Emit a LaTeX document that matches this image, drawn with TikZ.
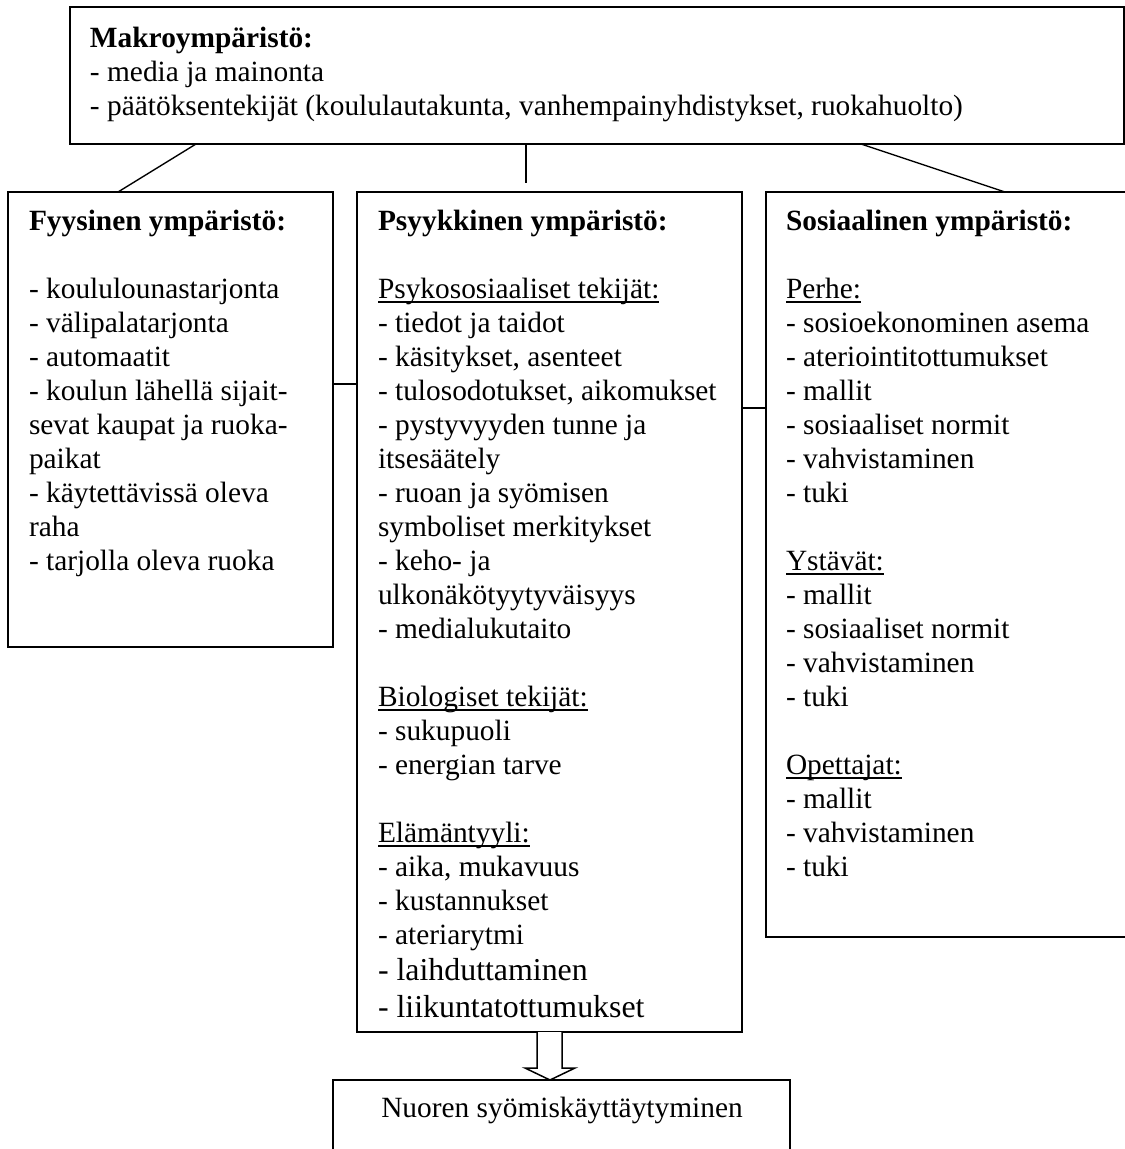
\documentclass[tikz,border=0pt]{standalone}
\usepackage{fontspec}
\setmainfont{Liberation Serif}
\newcommand{\myul}[1]{\leavevmode\setbox0\hbox{#1}\rlap{\rule[-1.8pt]{\wd0}{0.55pt}}\box0}
\begin{document}
\begin{tikzpicture}[x=0.4pt,y=-0.4pt,
  box/.style 2 args={draw, line width=0.75pt, rectangle, inner sep=0pt, outer sep=0pt,
    anchor=north west, minimum width=#1*0.4pt, minimum height=#2*0.4pt},
  txt/.style={anchor=base west, inner sep=0pt, outer sep=0pt, font=\fontsize{11.75}{13.6}\selectfont},
  link/.style={line width=0.55pt}]
\useasboundingbox (0,0) rectangle (1125,1149);

% boxes
\node[box={1054}{137}] (macro) at (70,7) {};
\node[box={325}{455}] (fyys) at (8,192) {};
\node[box={385}{840}] (psyk) at (357,192) {};
\node[box={370}{745}] (sos) at (766,192) {};
\node[box={457}{90}] (out) at (333,1080) {};

% texts
\node[txt] (tmacro) at (90,47) {\parbox[t]{440pt}{\raggedright
\textbf{Makroympäristö:}\par
- media ja mainonta\par
- päätöksentekijät (koululautakunta, vanhempainyhdistykset, ruokahuolto)}};

\node[txt] (tfyys) at (29,230) {\parbox[t]{200pt}{\raggedright
\textbf{Fyysinen ympäristö:}\par
\mbox{}\par
- koululounastarjonta\par
- välipalatarjonta\par
- automaatit\par
- koulun lähellä sijait-\par
sevat kaupat ja ruoka-\par
paikat\par
- käytettävissä oleva\par
raha\par
- tarjolla oleva ruoka}};

\node[txt] (tpsyk) at (378,230) {\parbox[t]{200pt}{\raggedright
\textbf{Psyykkinen ympäristö:}\par
\mbox{}\par
\myul{Psykososiaaliset tekijät:}\par
- tiedot ja taidot\par
- käsitykset, asenteet\par
- tulosodotukset, aikomukset\par
- pystyvyyden tunne ja\par
itsesäätely\par
- ruoan ja syömisen\par
symboliset merkitykset\par
- keho- ja\par
ulkonäkötyytyväisyys\par
- medialukutaito\par
\mbox{}\par
\myul{Biologiset tekijät:}\par
- sukupuoli\par
- energian tarve\par
\mbox{}\par
\myul{Elämäntyyli:}\par
- aika, mukavuus\par
- kustannukset\par
- ateriarytmi\par
\fontsize{12.75}{14.6}\selectfont
- laihduttaminen\par
- liikuntatottumukset}};

\node[txt] (tsos) at (786,230) {\parbox[t]{200pt}{\raggedright
\textbf{Sosiaalinen ympäristö:}\par
\mbox{}\par
\myul{Perhe:}\par
- sosioekonominen asema\par
- ateriointitottumukset\par
- mallit\par
- sosiaaliset normit\par
- vahvistaminen\par
- tuki\par
\mbox{}\par
\myul{Ystävät:}\par
- mallit\par
- sosiaaliset normit\par
- vahvistaminen\par
- tuki\par
\mbox{}\par
\myul{Opettajat:}\par
- mallit\par
- vahvistaminen\par
- tuki}};

\node[txt, anchor=base] (tout) at (562,1117) {Nuoren syömiskäyttäytyminen};

% connectors
\draw[link] ([xshift=126*0.4pt]macro.south west) -- ([xshift=110*0.4pt]fyys.north west);
\draw[link] ([xshift=456*0.4pt]macro.south west) -- ([xshift=169*0.4pt, yshift=9*0.4pt]psyk.north west);
\draw[link] ([xshift=791*0.4pt]macro.south west) -- ([xshift=239*0.4pt]sos.north west);
\draw[link] ([yshift=-192*0.4pt]fyys.north east) -- ([yshift=-192*0.4pt]psyk.north west);
\draw[link] ([yshift=-216*0.4pt]psyk.north east) -- ([yshift=-216*0.4pt]sos.north west);

% hollow arrow
\draw[line width=0.6pt, fill=white, line join=miter]
  ([xshift=-12.5*0.4pt]psyk.south) -- ++(0,36) -- ++(-12,0) -- ++(25,12)
  -- ++(25,-12) -- ++(-13,0) -- ++(0,-36);
\end{tikzpicture}
\end{document}
